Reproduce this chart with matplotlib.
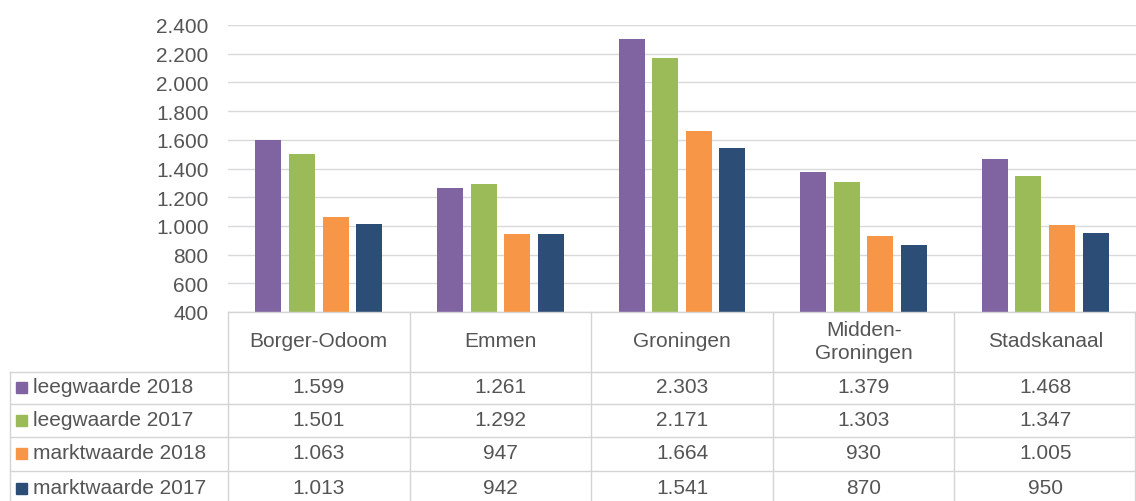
import matplotlib
matplotlib.use("Agg")
import matplotlib.pyplot as plt
import numpy as np

categories = ["Borger-Odoom", "Emmen", "Groningen", "Midden-\nGroningen", "Stadskanaal"]
series_names = ["leegwaarde 2018", "leegwaarde 2017", "marktwaarde 2018", "marktwaarde 2017"]
leeg_2018 = [1599, 1261, 2303, 1379, 1468]
leeg_2017 = [1501, 1292, 2171, 1303, 1347]
markt_2018 = [1063, 947, 1664, 930, 1005]
markt_2017 = [1013, 942, 1541, 870, 950]
series = [leeg_2018, leeg_2017, markt_2018, markt_2017]
colors = ["#8064A2", "#9BBB59", "#F79646", "#2C4D75"]
yticks = list(range(400, 2401, 200))

plt.rcParams['font.family'] = ['Liberation Sans', 'DejaVu Sans']
W, H = 1136, 502
fig = plt.figure(figsize=(W / 100, H / 100), dpi=100)
tc = "#555555"

def fmt(v):
    return f"{v:,}".replace(",", ".")

# main axes (pixel layout)
x0, x1, ytop, ybot = 228, 1136, 26, 313
ax = fig.add_axes([x0 / W, 1 - ybot / H, (x1 - x0) / W, (ybot - ytop) / H])
n = len(categories)
x = np.arange(n)
bw = 0.143
step = 0.185
for i, (vals, c) in enumerate(zip(series, colors)):
    ax.bar(x + (i - 1.5) * step, np.array(vals) - 400, bottom=400, width=bw, color=c, zorder=3)
ax.set_xlim(-0.5, n - 0.5)
ax.set_ylim(400, 2400)
ax.set_yticks(yticks)
ax.set_yticklabels([fmt(t) for t in yticks], fontsize=15, color=tc)
ax.tick_params(axis='y', length=0, pad=14)
ax.set_xticks([])
ax.grid(axis='y', color="#d9d9d9", linewidth=1, zorder=0)
for s in ax.spines.values():
    s.set_visible(False)

# table overlay in pixel coordinates
tab = fig.add_axes([0, 0, 1, 1], facecolor="none")
tab.set_xlim(0, W)
tab.set_ylim(H, 0)
tab.axis("off")
lc = "#d4d4d4"
col_edges = np.linspace(x0, x1, n + 1)
row_edges = [373, 405, 438, 472, 506]
tab.plot([x0, x1], [313, 313], color=lc, lw=1)
for y in row_edges[:-1]:
    tab.plot([10, x1], [y, y], color=lc, lw=1)
for cx in col_edges[:-1]:
    tab.plot([cx, cx], [313, H], color=lc, lw=1)
tab.plot([x1 - 1, x1 - 1], [313, H], color=lc, lw=1)
tab.plot([10, 10], [373, H], color=lc, lw=1)

centers = (col_edges[:-1] + col_edges[1:]) / 2
for cx, cat in zip(centers, categories):
    tab.text(cx, 342, cat, ha="center", va="center", fontsize=15, color=tc, linespacing=1.25)

for r, (name, vals, c) in enumerate(zip(series_names, series, colors)):
    yc = (row_edges[r] + row_edges[r + 1]) / 2 - 1
    if r == 3:
        yc = 489
    tab.add_patch(plt.Rectangle((16, yc - 5), 11, 11, color=c))
    tab.text(33, yc, name, ha="left", va="center", fontsize=15, color=tc)
    for cx, v in zip(centers, vals):
        tab.text(cx, yc, fmt(v), ha="center", va="center", fontsize=15, color=tc)

fig.savefig("out.png", dpi=100)
